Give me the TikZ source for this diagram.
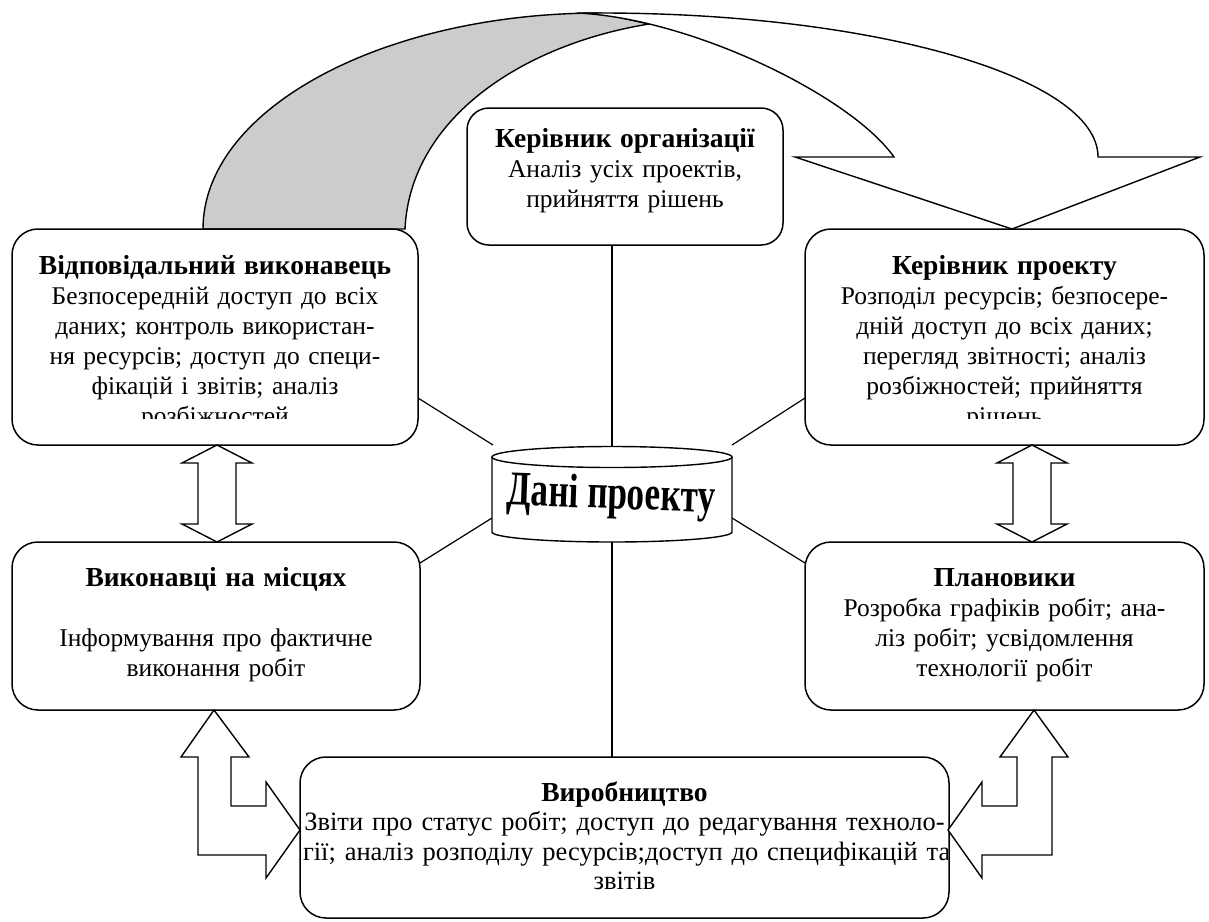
\documentclass[tikz,border=0pt]{standalone}
\usepackage{fontspec}
\setmainfont{Liberation Serif}
\usepackage{graphicx}
\newcommand{\myfs}{\fontsize{25.5}{30}\selectfont}
\newcommand{\mytb}[1]{{\fontsize{27.5}{30}\selectfont\bfseries #1}}
\begin{document}
\begin{tikzpicture}[x=1pt,y=-1pt,
  box/.style={draw, line width=1.5pt, fill=white, rounded corners=26pt, inner sep=0pt},
  txt/.style={text width=#1, align=center, anchor=base, inner sep=0pt, font=\myfs},
  conn/.style={line width=1.2pt},
  arr/.style={draw, line width=1.4pt, fill=white, line join=miter},
]
\useasboundingbox[fill=white] (0,0) rectangle (1209,921);

% connector end points
\coordinate (a1) at (418,398);  \coordinate (a2) at (493,445);
\coordinate (b1) at (805,398);  \coordinate (b2) at (732,445);
\coordinate (c1) at (420,563);  \coordinate (c2) at (492,518);
\coordinate (d1) at (805,563);  \coordinate (d2) at (732,518);
\coordinate (v1) at (612,245);  \coordinate (v2) at (612,447);
\coordinate (w1) at (612,542);  \coordinate (w2) at (612,757);

\draw[conn] (a1) -- (a2);
\draw[conn] (b1) -- (b2);
\draw[conn] (c1) -- (c2);
\draw[conn] (d1) -- (d2);
\draw[conn] (v1) -- (v2);
\draw[conn] (w1) -- (w2);

% big curved arrow
\path[arr, fill=gray!40] (203,229) .. controls (203,110) and (381,13) .. (600,13) -- (649,24) .. controls (520,45) and (410,120) .. (405,229) -- cycle;
\path[arr] (577,13) -- (600,13) .. controls (875,13) and (1098,77.5) .. (1098,157) -- (1200,157) -- (1012,229) -- (795,157) -- (894,157) .. controls (850,95) and (690,18) .. (577,13) -- cycle;

% boxes
\node[box, minimum width=316pt, minimum height=137pt, rounded corners=22pt] (korg) at (625,176.5) {};
\node[box, minimum width=406pt, minimum height=216pt] (otv) at (215,337) {};
\node[box, minimum width=399pt, minimum height=216pt] (kpr) at (1004.5,337) {};
\node[box, minimum width=408pt, minimum height=168pt] (vik) at (216,626) {};
\node[box, minimum width=399pt, minimum height=168pt] (plan) at (1004.5,626) {};
\node[box, minimum width=649pt, minimum height=161pt] (vyr) at (624.5,837.5) {};

% texts
\node[txt=310pt] (korgT) at (625,147) {\mytb{Керівник організації}\\Аналіз усіх проектів,\\прийняття рішень};
\begin{scope}
\clip (12,229) rectangle (418,418);
\node[txt=390pt] (otvT) at (215,274) {\mytb{Відповідальний виконавець}\\Безпосередній доступ до всіх\\даних; контроль використан-\\ня ресурсів; доступ до специ-\\фікацій і звітів; аналіз\\розбіжностей};
\end{scope}
\begin{scope}
\clip (805,229) rectangle (1204,418);
\node[txt=385pt] (kprT) at (1004.5,274) {\mytb{Керівник проекту}\\Розподіл ресурсів; безпосере-\\дній доступ до всіх даних;\\перегляд звітності; аналіз\\розбіжностей; прийняття\\рішень};
\end{scope}
\node[txt=390pt] (vikT) at (216,586) {\mytb{Виконавці на місцях}\\[30pt]Інформування про фактичне\\виконання робіт};
\node[txt=385pt] (planT) at (1004.5,586) {\mytb{Плановики}\\Розробка графіків робіт; ана-\\ліз робіт; усвідомлення\\технології робіт};
\begin{scope}
\clip (300,757) rectangle (947,918);
\node[txt=643pt, font=\fontsize{26.5}{29.5}\selectfont] (vyrT) at (624.5,801) {\mytb{Виробництво}\\\mbox{Звіти про статус робіт; доступ до редагування техноло-}\\\makebox[643pt][l]{гії; аналіз розподілу ресурсів;доступ до специфікацій та}\\звітів};
\end{scope}

% double arrows
\path[arr] (217,445) -- (252,463) -- (236,463) -- (236,524) -- (252,524) -- (217,542) -- (182,524) -- (198,524) -- (198,463) -- (182,463) -- cycle;
\path[arr] (1032,445) -- (1067,463) -- (1051,463) -- (1051,524) -- (1067,524) -- (1032,542) -- (997,524) -- (1013,524) -- (1013,463) -- (997,463) -- cycle;

% bent arrows
\path[arr] (214,710) -- (249,757) -- (231,757) -- (231,806) -- (266,806) -- (266,782) -- (300,830) -- (266,878) -- (266,855) -- (198,855) -- (198,757) -- (181,757) -- cycle;
\path[arr] (1034,710) -- (1068,757) -- (1052,757) -- (1052,855) -- (982,855) -- (982,878) -- (948,830) -- (982,782) -- (982,806) -- (1017,806) -- (1017,757) -- (1000,757) -- cycle;

% cylinder
\path[draw, line width=1.4pt, fill=white] (492,457) -- (492,532) arc[start angle=180, end angle=360, x radius=120pt, y radius=10pt] -- (732,457);
\draw[line width=1.4pt, fill=white] (612,457) ellipse [x radius=120pt, y radius=10.5pt];
\node[inner sep=0pt, rotate=-2] (dani) at (611,497) {\scalebox{0.8}[1.1]{\fontsize{44}{44}\selectfont\bfseries Дані проекту}};
\end{tikzpicture}
\end{document}
